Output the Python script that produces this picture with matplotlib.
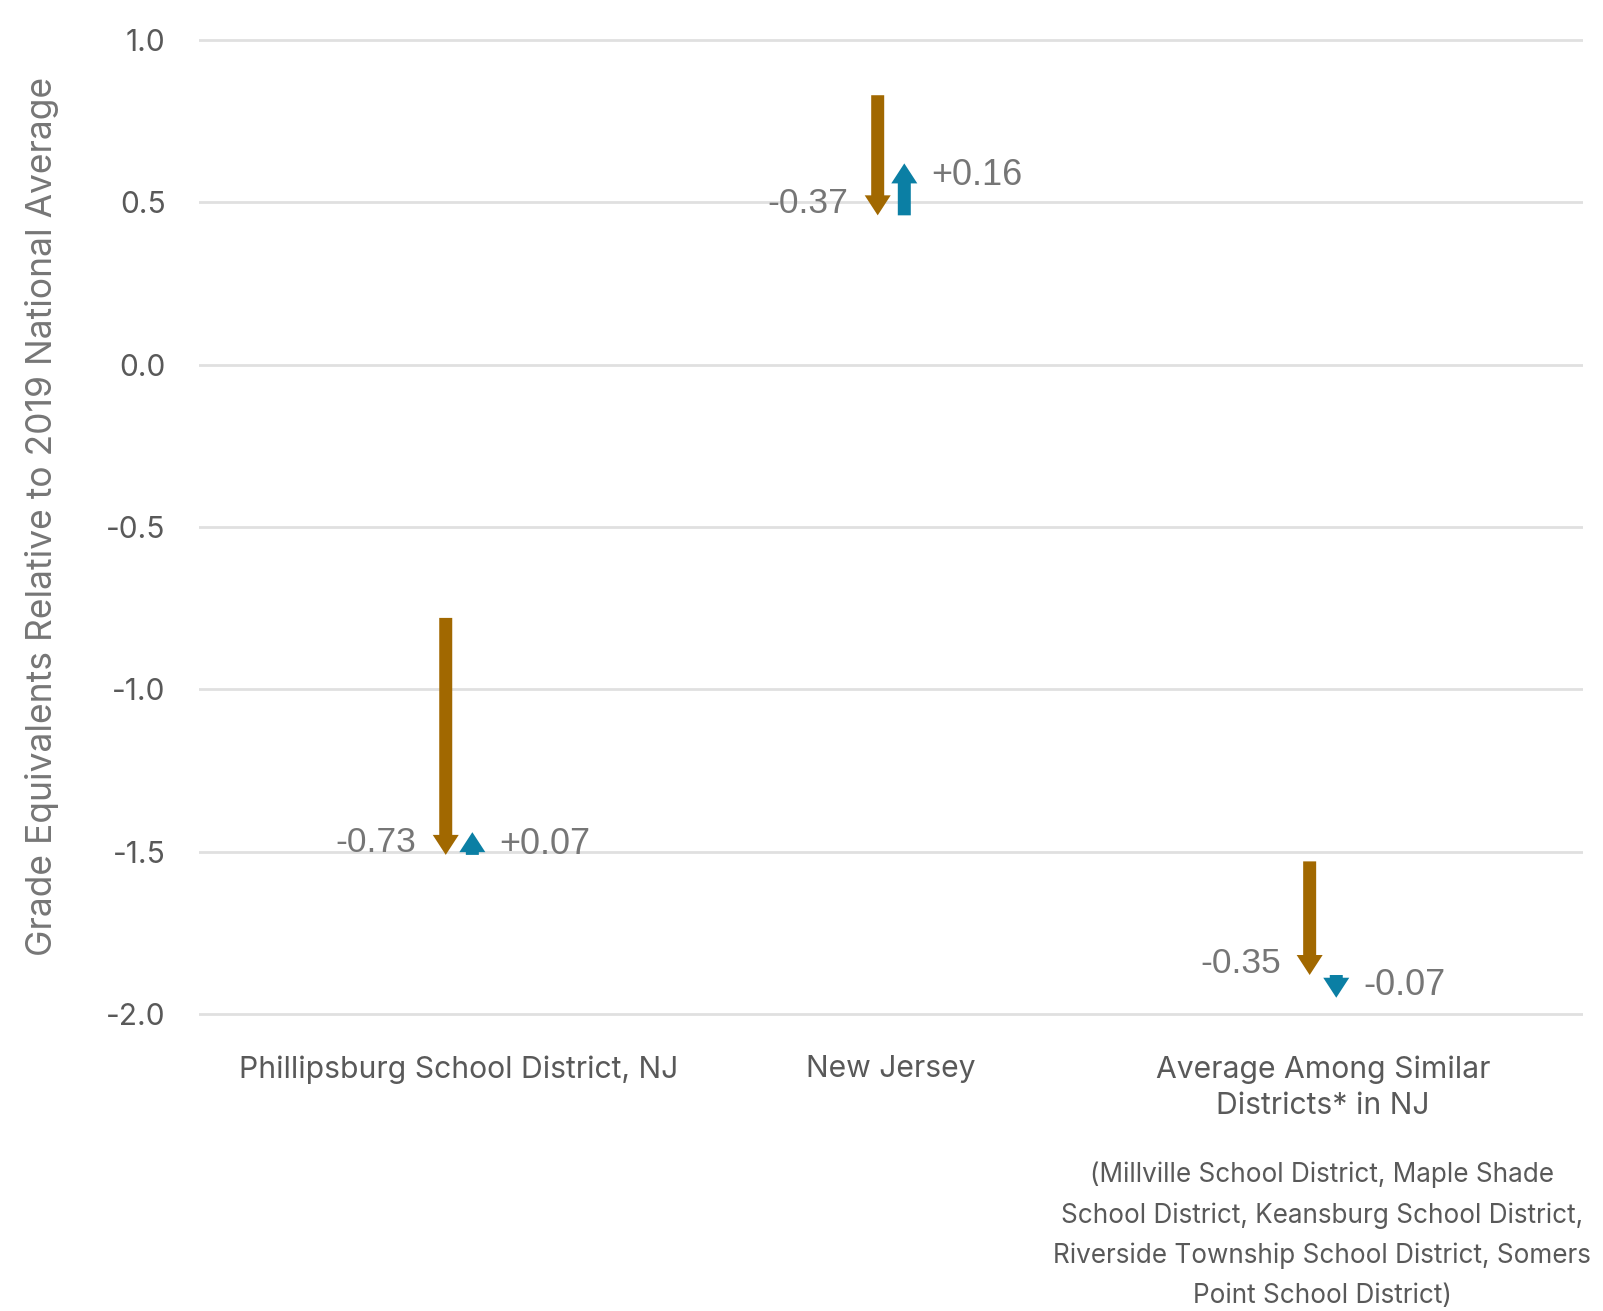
import numpy as np
import matplotlib
matplotlib.use("Agg")
import matplotlib.pyplot as plt
from matplotlib.patches import FancyArrow

# data
categories = ["Phillipsburg School District, NJ", "New Jersey",
              "Average Among Similar\nDistricts* in NJ"]
start_2019 = [-0.78, 0.83, -1.53]        # where the brown arrow starts
change_first = [-0.73, -0.37, -0.35]     # brown arrows
change_second = [0.07, 0.16, -0.07]      # blue arrows
first_labels = ["-0.73", "-0.37", "-0.35"]
second_labels = ["+0.07", "+0.16", "-0.07"]
yticks = [1.0, 0.5, 0.0, -0.5, -1.0, -1.5, -2.0]
footnote = ("(Millville School District, Maple Shade\n"
            "School District, Keansburg School District,\n"
            "Riverside Township School District, Somers\n"
            "Point School District)")

brown = "#A16800"
blue = "#0B7FA4"
grid_c = "#E0E0E0"

W, H = 1603, 1311
fig = plt.figure(figsize=(W / 100, H / 100), dpi=100)
ax = fig.add_axes([199 / W, 1 - 1030.2 / H, 1384 / W, (1030.2 - 23.8) / H])

ax.set_xlim(-0.602, 2.602)
ax.set_ylim(-2.05, 1.05)
for s in ax.spines.values():
    s.set_visible(False)

for t in yticks:
    ax.axhline(t, color=grid_c, lw=2, zorder=0)

ax.set_yticks(yticks)
ax.set_yticklabels([f"{t:.1f}" for t in yticks], fontfamily="Inter",
                   fontsize=21.5, color="#595959")
ax.tick_params(axis="y", length=0, pad=24)
ax.set_xticks(range(len(categories)))
ax.set_xticklabels(categories, fontfamily="Inter", fontsize=21.7,
                   color="#595959", linespacing=1.4)
ax.tick_params(axis="x", length=0, pad=18)

ax.set_ylabel("Grade Equivalents Relative to 2019 National Average",
              fontfamily="Inter", fontsize=25.5, color="#767676")
ax.yaxis.set_label_coords(-0.101, 0.51)

px_x = 1384 / 3.204   # pixels per x unit
px_y = 1006.4 / 3.1   # pixels per y unit
off = 13.3 / px_x
shaft = 13 / px_x
head_w = 26 / px_x
head_l = 20 / px_y

for i in range(len(categories)):
    y0 = start_2019[i]
    y1 = y0 + change_first[i]
    y2 = y1 + change_second[i]
    xb = i - off
    xc = i + off
    ax.add_patch(FancyArrow(xb, y0, 0, y1 - y0, width=shaft, head_width=head_w,
                            head_length=head_l, length_includes_head=True,
                            color=brown, lw=0, zorder=3))
    ax.add_patch(FancyArrow(xc, y1, 0, y2 - y1, width=shaft, head_width=head_w,
                            head_length=head_l, length_includes_head=True,
                            color=blue, lw=0, zorder=3))
    s1 = -np.sign(change_first[i])
    ax.annotate(first_labels[i], (xb, y1), xytext=(-29 * 0.72, s1 * 12 * 0.72),
                textcoords="offset points", ha="right", va="center",
                fontfamily="Liberation Sans", fontsize=25.5, color="#767676")
    s2 = -np.sign(change_second[i])
    ax.annotate(second_labels[i], (xc, y2), xytext=(27 * 0.72, s2 * 12 * 0.72),
                textcoords="offset points", ha="left", va="center",
                fontfamily="Liberation Sans", fontsize=26, color="#767676")

fig.text(1322 / W, 1 - 1162 / H, footnote, ha="center", va="top",
         fontfamily="Inter", fontsize=18.8, color="#595959", linespacing=1.68)

fig.savefig("out.png", dpi=100)
